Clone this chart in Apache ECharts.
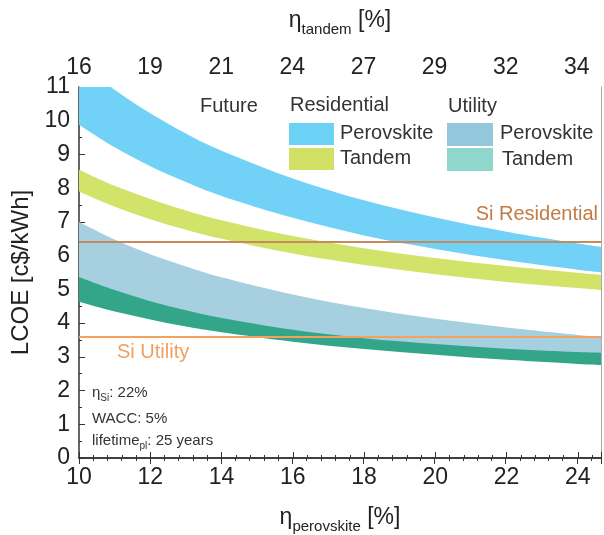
<!DOCTYPE html>
<html>
<head>
<meta charset="utf-8">
<script src="https://cdn.jsdelivr.net/npm/echarts@6/dist/echarts.min.js"></script>
<style>
  html, body { margin: 0; padding: 0; background: #fff; }
  #chart { width: 604px; height: 535px; }
</style>
</head>
<body>
<div id="chart"></div>
<script>
// Perovskite cell efficiency (%) at which each LCOE bound is sampled
const effPerovskite = [10, 11, 12, 13, 14, 16, 18, 20, 22, 24, 24.65];

// LCOE bands (c$/kWh): upper and lower bound of each scenario
const resPerovskiteHigh  = [11.76, 10.92, 10.22, 9.62, 9.11, 8.29, 7.64, 7.13, 6.71, 6.36, 6.26];
const resPerovskiteLow   = [9.88, 9.21, 8.65, 8.18, 7.77, 7.12, 6.60, 6.20, 5.86, 5.58, 5.50];
const resTandemHigh      = [8.55, 8.07, 7.68, 7.34, 7.05, 6.58, 6.22, 5.93, 5.69, 5.49, 5.43];
const resTandemLow       = [7.90, 7.45, 7.08, 6.77, 6.50, 6.06, 5.72, 5.45, 5.22, 5.04, 4.98];
const utilPerovskiteHigh = [7.00, 6.48, 6.04, 5.68, 5.36, 4.85, 4.45, 4.13, 3.87, 3.65, 3.59];
const utilPerovskiteLow  = [5.15, 4.78, 4.45, 4.18, 3.95, 3.62, 3.38, 3.22, 3.09, 3.00, 2.98];
const utilTandemHigh     = [5.37, 4.98, 4.65, 4.38, 4.15, 3.80, 3.55, 3.38, 3.24, 3.14, 3.12];
const utilTandemLow      = [4.63, 4.34, 4.11, 3.90, 3.73, 3.45, 3.23, 3.06, 2.91, 2.79, 2.76];

// Silicon reference LCOE levels
const siResidential = 6.4;
const siUtility = 3.6;

// Tandem efficiency labels on the secondary (top) axis
const tandemTickLabels = ['16', '19', '21', '24', '27', '29', '32', '34'];

const FONT = '"Liberation Sans", Arial, sans-serif';
const AXIS_COLOR = '#333';

// Catmull-Rom spline through pixel points, as cubic Bezier segments
function splineSegments(pts) {
  let d = '';
  for (let i = 0; i < pts.length - 1; i++) {
    const p0 = pts[i - 1] || pts[i], p1 = pts[i], p2 = pts[i + 1], p3 = pts[i + 2] || pts[i + 1];
    const c1 = [p1[0] + (p2[0] - p0[0]) / 6, p1[1] + (p2[1] - p0[1]) / 6];
    const c2 = [p2[0] - (p3[0] - p1[0]) / 6, p2[1] - (p3[1] - p1[1]) / 6];
    d += ' C' + c1[0] + ' ' + c1[1] + ' ' + c2[0] + ' ' + c2[1] + ' ' + p2[0] + ' ' + p2[1];
  }
  return d;
}

// Filled region between a lower and an upper LCOE bound
function band(name, lo, hi, color) {
  return {
    type: 'custom', name: name, coordinateSystem: 'cartesian2d', clip: true, silent: true,
    data: effPerovskite.map((x, i) => [x, lo[i], hi[i]]),
    encode: { x: 0, y: [1, 2] },
    renderItem: function (params, api) {
      if (params.dataIndex !== 0) return null;
      const top = effPerovskite.map((x, i) => api.coord([x, hi[i]]));
      const bot = effPerovskite.map((x, i) => api.coord([x, lo[i]])).reverse();
      const d = 'M' + top[0][0] + ' ' + top[0][1] + splineSegments(top) +
        ' L' + bot[0][0] + ' ' + bot[0][1] + splineSegments(bot) + ' Z';
      return { type: 'path', shape: { pathData: d }, style: { fill: color, stroke: null } };
    }
  };
}

const series = [
  band('Residential Perovskite', resPerovskiteLow, resPerovskiteHigh, '#72d1f6'),
  band('Residential Tandem', resTandemLow, resTandemHigh, '#d2e36a'),
  band('Utility Perovskite', utilPerovskiteLow, utilPerovskiteHigh, '#a6cfdf'),
  band('Utility Tandem', utilTandemLow, utilTandemHigh, '#33a68a')
];

// Silicon reference levels drawn across the whole plot
series.push({
  type: 'line', name: 'Si', data: [], silent: true, z: 5,
  markLine: {
    silent: true, symbol: 'none', label: { show: false },
    data: [
      { yAxis: siResidential, lineStyle: { color: '#c9895a', width: 2, type: 'solid' } },
      { yAxis: siUtility, lineStyle: { color: '#f2a25e', width: 2, type: 'solid' } }
    ]
  }
});

const tickLabel = { fontSize: 23, color: '#222', fontFamily: FONT };
const nameRich = {
  e: { fontSize: 23, color: '#222', fontFamily: FONT, verticalAlign: 'bottom', padding: [0, 0, 5, 0] },
  s: { fontSize: 15, color: '#222', fontFamily: FONT, verticalAlign: 'bottom' }
};
const noteRich = {
  m: { fontSize: 15, fill: '#333', color: '#333', fontFamily: FONT, verticalAlign: 'bottom', padding: [0, 0, 3, 0] },
  s: { fontSize: 10, fill: '#333', color: '#333', fontFamily: FONT, verticalAlign: 'bottom' }
};

function label(left, top, text, extra) {
  return Object.assign({ type: 'text', z: 100, left: left, top: top,
    style: { text: text, fontSize: 20, fill: '#333', fontFamily: FONT } }, extra || {});
}

const option = {
  animation: false,
  backgroundColor: '#fff',
  grid: { left: 79, right: 3, top: 87, bottom: 77, containLabel: false, outerBoundsMode: 'none' },
  xAxis: [
    {
      type: 'value', position: 'bottom', min: 10, max: 24.65, interval: 2,
      axisLine: { show: true, lineStyle: { color: AXIS_COLOR, width: 1.5 } },
      axisTick: { show: true, inside: true, length: 6, lineStyle: { color: AXIS_COLOR } },
      minorTick: { show: true, splitNumber: 5, length: 3, lineStyle: { color: AXIS_COLOR } },
      splitLine: { show: false },
      axisLabel: Object.assign({ margin: 8, showMaxLabel: false,
        formatter: v => (Number.isInteger(v) ? String(v) : '') }, tickLabel),
      name: '{e|η}{s|perovskite}{e| [%]}', nameLocation: 'middle', nameGap: 48,
      nameTextStyle: { rich: nameRich }
    },
    {
      type: 'value', position: 'top', min: 0, max: 7.34, interval: 1,
      axisLine: { show: true, lineStyle: { color: AXIS_COLOR, width: 1.5 } },
      axisTick: { show: true, inside: true, length: 6, lineStyle: { color: AXIS_COLOR } },
      minorTick: { show: true, splitNumber: 5, length: 3, lineStyle: { color: AXIS_COLOR } },
      splitLine: { show: false },
      axisLabel: Object.assign({ margin: 8, showMaxLabel: false,
        formatter: v => (Number.isInteger(v) && tandemTickLabels[v] !== undefined ? tandemTickLabels[v] : '') }, tickLabel),
      name: '{e|η}{s|tandem}{e| [%]}', nameLocation: 'middle', nameGap: 50,
      nameTextStyle: { rich: nameRich }
    }
  ],
  yAxis: [
    {
      type: 'value', min: 0, max: 11, interval: 1,
      axisLine: { show: true, lineStyle: { color: AXIS_COLOR, width: 1.5 } },
      axisTick: { show: true, inside: true, length: 6, lineStyle: { color: AXIS_COLOR } },
      minorTick: { show: true, splitNumber: 2, length: 3, lineStyle: { color: AXIS_COLOR } },
      splitLine: { show: false },
      axisLabel: Object.assign({ margin: 9 }, tickLabel),
      name: 'LCOE [c$/kWh]', nameLocation: 'middle', nameGap: 44, nameRotate: 90,
      nameTextStyle: { fontSize: 24, color: '#222', fontFamily: FONT }
    },
    {
      type: 'value', position: 'right', min: 0, max: 11, interval: 1,
      axisLine: { show: true, lineStyle: { color: '#aaa', width: 1 } },
      axisTick: { show: false }, axisLabel: { show: false }, splitLine: { show: false }
    }
  ],
  series: series,
  graphic: [
    // Legend block
    label(200, 96, 'Future'),
    label(290, 95, 'Residential'),
    label(448, 96, 'Utility'),
    { type: 'rect', z: 100, shape: { x: 289, y: 123, width: 45, height: 22 }, style: { fill: '#6dd0f5' } },
    { type: 'rect', z: 100, shape: { x: 289, y: 148, width: 45, height: 22 }, style: { fill: '#d3e066' } },
    { type: 'rect', z: 100, shape: { x: 447, y: 123, width: 46, height: 23 }, style: { fill: '#94c6dc' } },
    { type: 'rect', z: 100, shape: { x: 447, y: 148, width: 46, height: 23 }, style: { fill: '#8fd7cd' } },
    label(340, 123, 'Perovskite'),
    label(340, 148, 'Tandem'),
    label(500, 123, 'Perovskite'),
    label(502, 149, 'Tandem'),
    // Reference-line captions
    { type: 'text', z: 100, right: 6, top: 204, style: { text: 'Si Residential', fontSize: 20, fill: '#c27b45', fontFamily: FONT } },
    { type: 'text', z: 100, left: 117, top: 342, style: { text: 'Si Utility', fontSize: 20, fill: '#f0a060', fontFamily: FONT } },
    // Assumptions
    { type: 'text', z: 100, left: 92, top: 385, style: { text: '{m|η}{s|Si}{m|: 22%}', fontFamily: FONT, rich: noteRich } },
    { type: 'text', z: 100, left: 92, top: 411, style: { text: 'WACC: 5%', fontSize: 15, fill: '#333', fontFamily: FONT } },
    { type: 'text', z: 100, left: 92, top: 433, style: { text: '{m|lifetime}{s|pl}{m|: 25 years}', fontFamily: FONT, rich: noteRich } }
  ]
};

const chart = echarts.init(document.getElementById('chart'), null, { renderer: 'canvas' });
chart.setOption(option);
</script>
</body>
</html>
